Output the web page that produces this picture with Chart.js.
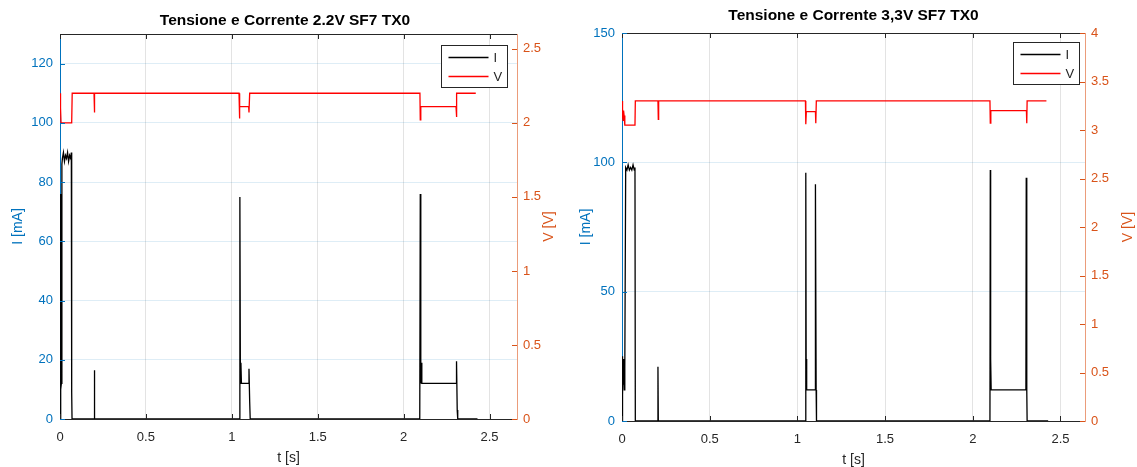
<!DOCTYPE html>
<html>
<head>
<meta charset="utf-8">
<script src="https://cdn.jsdelivr.net/npm/chart.js@4.4.1/dist/chart.umd.min.js"></script>
<style>
  body { margin: 0; background: #fff; }
  .box { position: absolute; top: 0; }
</style>
</head>
<body>
<div class="box" style="left:0"><canvas id="c22" width="570" height="467"></canvas></div>
<div class="box" style="left:570px"><canvas id="c33" width="567" height="467"></canvas></div>
<script>
const t_I_22 = [0, 0.003, 0.005, 0.008, 0.011, 0.014, 0.02, 0.026, 0.032, 0.038, 0.044, 0.05, 0.056, 0.062, 0.066, 0.068, 0.07,
  0.198, 0.2, 0.202, 1.044, 1.047, 1.05, 1.053, 1.056, 1.098, 1.1, 1.104, 1.107,
  2.094, 2.097, 2.1, 2.103, 2.106, 2.305, 2.308, 2.312, 2.315, 2.43];
const i_22 = [0, 76, 10, 12, 86, 88, 90, 87, 89, 88, 90, 87, 89, 88, 90, 9, 0,
  0, 16.5, 0, 0, 75, 12, 19, 12, 12, 17, 6, 0,
  0, 76, 12, 19, 12, 12, 19.5, 3, 0, 0];
const t_V_22 = [0, 0.002, 0.004, 0.006, 0.068, 0.071, 0.198, 0.2, 0.202, 1.042, 1.044, 1.047, 1.098, 1.1, 1.104,
  2.095, 2.097, 2.1, 2.305, 2.307, 2.31, 2.42];
const v_22 = [2.2, 2.12, 2.1, 2.0, 2.0, 2.2, 2.2, 2.07, 2.2, 2.2, 2.03, 2.11, 2.11, 2.07, 2.2,
  2.2, 2.02, 2.11, 2.11, 2.04, 2.2, 2.2];

const t_I_33 = [0, 0.002, 0.004, 0.006, 0.008, 0.010, 0.013, 0.016, 0.021, 0.028, 0.035, 0.042, 0.049, 0.056, 0.063, 0.07, 0.074, 0.076,
  0.203, 0.205, 0.207, 1.046, 1.048, 1.05, 1.053, 1.057, 1.101, 1.103, 1.107, 1.109,
  2.098, 2.1, 2.102, 2.105, 2.109, 2.303, 2.305, 2.308, 2.31, 2.43];
const i_33 = [0, 25, 10, 22, 14, 24, 12, 20, 98, 97, 99, 97, 98, 97, 99, 97, 98, 0,
  0, 21, 0, 0, 96, 24, 12, 12, 12, 91.5, 12, 0,
  0, 97, 24, 12, 12, 12, 94, 12, 0, 0];
const t_V_33 = [0, 0.002, 0.004, 0.006, 0.009, 0.012, 0.016, 0.074, 0.076, 0.205, 0.207, 0.209,
  1.046, 1.048, 1.051, 1.103, 1.105, 1.108, 2.098, 2.1, 2.103, 2.306, 2.308, 2.31, 2.42];
const v_33 = [3.3, 3.12, 3.22, 3.1, 3.2, 3.15, 3.05, 3.05, 3.3, 3.3, 3.11, 3.3,
  3.3, 3.06, 3.19, 3.19, 3.07, 3.3, 3.3, 3.07, 3.2, 3.2, 3.07, 3.3, 3.3];

// tick / assi
const xTicksStep = 0.5;
const FONT = "'Liberation Sans', Arial, sans-serif";
const BLUE = '#0072BD';
const ORANGE = '#D95319';
const DARK = '#262626';

function toXY(xs, ys) {
  return xs.map((x, k) => ({ x: x, y: ys[k] }));
}

// bordo superiore, tacche interne, legenda dentro il grafico, titolo asse destro
const matlabBits = {
  id: 'matlabBits',
  afterDraw(chart, args, o) {
    const { ctx, chartArea: a, scales } = chart;
    ctx.save();
    ctx.lineWidth = 1;

    // bordo superiore
    ctx.strokeStyle = DARK;
    ctx.beginPath();
    ctx.moveTo(a.left, a.top + 0.5);
    ctx.lineTo(a.right, a.top + 0.5);
    ctx.stroke();

    // tacche asse x (sotto e sopra)
    ctx.beginPath();
    scales.x.ticks.forEach(t => {
      const px = Math.round(scales.x.getPixelForValue(t.value)) + 0.5;
      ctx.moveTo(px, a.bottom); ctx.lineTo(px, a.bottom - 5);
      ctx.moveTo(px, a.top); ctx.lineTo(px, a.top + 5);
    });
    ctx.stroke();

    // tacche asse sinistro
    ctx.strokeStyle = BLUE;
    ctx.beginPath();
    scales.y.ticks.forEach(t => {
      const py = Math.round(scales.y.getPixelForValue(t.value)) + 0.5;
      ctx.moveTo(a.left, py); ctx.lineTo(a.left + 5, py);
    });
    ctx.stroke();

    // tacche asse destro
    ctx.strokeStyle = ORANGE;
    ctx.beginPath();
    scales.y1.ticks.forEach(t => {
      const py = Math.round(scales.y1.getPixelForValue(t.value)) + 0.5;
      ctx.moveTo(a.right, py); ctx.lineTo(a.right - 5, py);
    });
    ctx.stroke();

    // titolo asse destro (letto dal basso verso l'alto come in MATLAB)
    ctx.fillStyle = ORANGE;
    ctx.font = '14px ' + FONT;
    ctx.textAlign = 'center';
    ctx.textBaseline = 'middle';
    ctx.translate(a.right + o.vTitleOffset, (a.top + a.bottom) / 2);
    ctx.rotate(-Math.PI / 2);
    ctx.fillText(o.vTitle, 0, 0);
    ctx.setTransform(1, 0, 0, 1, 0, 0);

    // legenda
    const bw = 66, bh = 42;
    const bx = Math.round(a.right - o.legendRight - bw) + 0.5;
    const by = Math.round(a.top + o.legendTop) + 0.5;
    ctx.fillStyle = '#fff';
    ctx.fillRect(bx, by, bw, bh);
    ctx.strokeStyle = DARK;
    ctx.strokeRect(bx, by, bw, bh);
    ctx.font = '13px ' + FONT;
    ctx.textAlign = 'left';
    chart.data.datasets.forEach((ds, k) => {
      const ly = by + 12 + k * 19;
      ctx.strokeStyle = ds.borderColor;
      ctx.lineWidth = 1.5;
      ctx.beginPath();
      ctx.moveTo(bx + 7, ly); ctx.lineTo(bx + 47, ly);
      ctx.stroke();
      ctx.fillStyle = DARK;
      ctx.fillText(ds.label, bx + 52, ly + 1);
    });
    ctx.restore();
  }
};

function buildChart(id, cfg) {
  const ctx = document.getElementById(id).getContext('2d');
  return new Chart(ctx, {
    type: 'line',
    data: {
      datasets: [
        { label: 'I', data: toXY(cfg.tI, cfg.iv), borderColor: '#000000', yAxisID: 'y' },
        { label: 'V', data: toXY(cfg.tV, cfg.vv), borderColor: '#ff0000', yAxisID: 'y1' }
      ]
    },
    options: {
      responsive: false,
      animation: false,
      elements: { point: { radius: 0 }, line: { borderWidth: 1.3, tension: 0 } },
      layout: { padding: 0 },
      plugins: {
        legend: { display: false },
        tooltip: { enabled: false },
        title: {
          display: true, text: cfg.title, color: '#000',
          font: { family: FONT, size: 15.5, weight: 'bold' },
          padding: cfg.titlePad
        },
        matlabBits: cfg.bits
      },
      scales: {
        x: {
          type: 'linear', min: 0, max: cfg.xMax,
          ticks: { stepSize: xTicksStep, includeBounds: false, callback: v => String(v),
                   color: DARK, padding: 11, font: { family: FONT, size: 13 }, maxRotation: 0 },
          grid: { color: '#e3e3e3', drawTicks: false },
          border: { color: DARK },
          title: { display: true, text: 't [s]', color: DARK, font: { family: FONT, size: 14 }, padding: { top: 0, bottom: cfg.xTitlePad } },
          afterFit(s) { s.height = cfg.bottomH; }
        },
        y: {
          position: 'left', min: 0, max: cfg.iMax,
          ticks: { stepSize: cfg.iStep, includeBounds: false, color: BLUE, padding: 7, font: { family: FONT, size: 13 } },
          grid: { color: 'rgba(0,114,189,0.13)', drawTicks: false },
          border: { color: BLUE },
          title: { display: true, text: 'I [mA]', color: BLUE, font: { family: FONT, size: 14 }, padding: { top: cfg.yTitlePad, bottom: 0 } },
          afterFit(s) { s.width = cfg.leftW; }
        },
        y1: {
          position: 'right', min: 0, max: cfg.vMax,
          ticks: { stepSize: 0.5, includeBounds: false, callback: v => String(v), color: ORANGE, padding: 6, font: { family: FONT, size: 13 } },
          grid: { display: false, drawTicks: false },
          border: { color: '#eb9c7a' },
          afterFit(s) { s.width = cfg.rightW; }
        }
      }
    },
    plugins: [matlabBits]
  });
}

buildChart('c22', {
  title: 'Tensione e Corrente 2.2V SF7 TX0',
  titlePad: { top: 11.7, bottom: 3.7 },
  tI: t_I_22, iv: i_22, tV: t_V_22, vv: v_22,
  xMax: 2.66, iMax: 130, iStep: 20, vMax: 2.6,
  leftW: 60, rightW: 53, bottomH: 48, xTitlePad: 0, yTitlePad: 9.6,
  bits: { vTitle: 'V [V]', vTitleOffset: 32, legendRight: 10, legendTop: 11 }
});

buildChart('c33', {
  title: 'Tensione e Corrente 3,3V SF7 TX0',
  titlePad: { top: 6.7, bottom: 7.7 },
  tI: t_I_33, iv: i_33, tV: t_V_33, vv: v_33,
  xMax: 2.64, iMax: 150, iStep: 50, vMax: 4,
  leftW: 52, rightW: 52, bottomH: 46, xTitlePad: -2, yTitlePad: 7.6,
  bits: { vTitle: 'V [V]', vTitleOffset: 43, legendRight: 6, legendTop: 9 }
});
</script>
</body>
</html>
